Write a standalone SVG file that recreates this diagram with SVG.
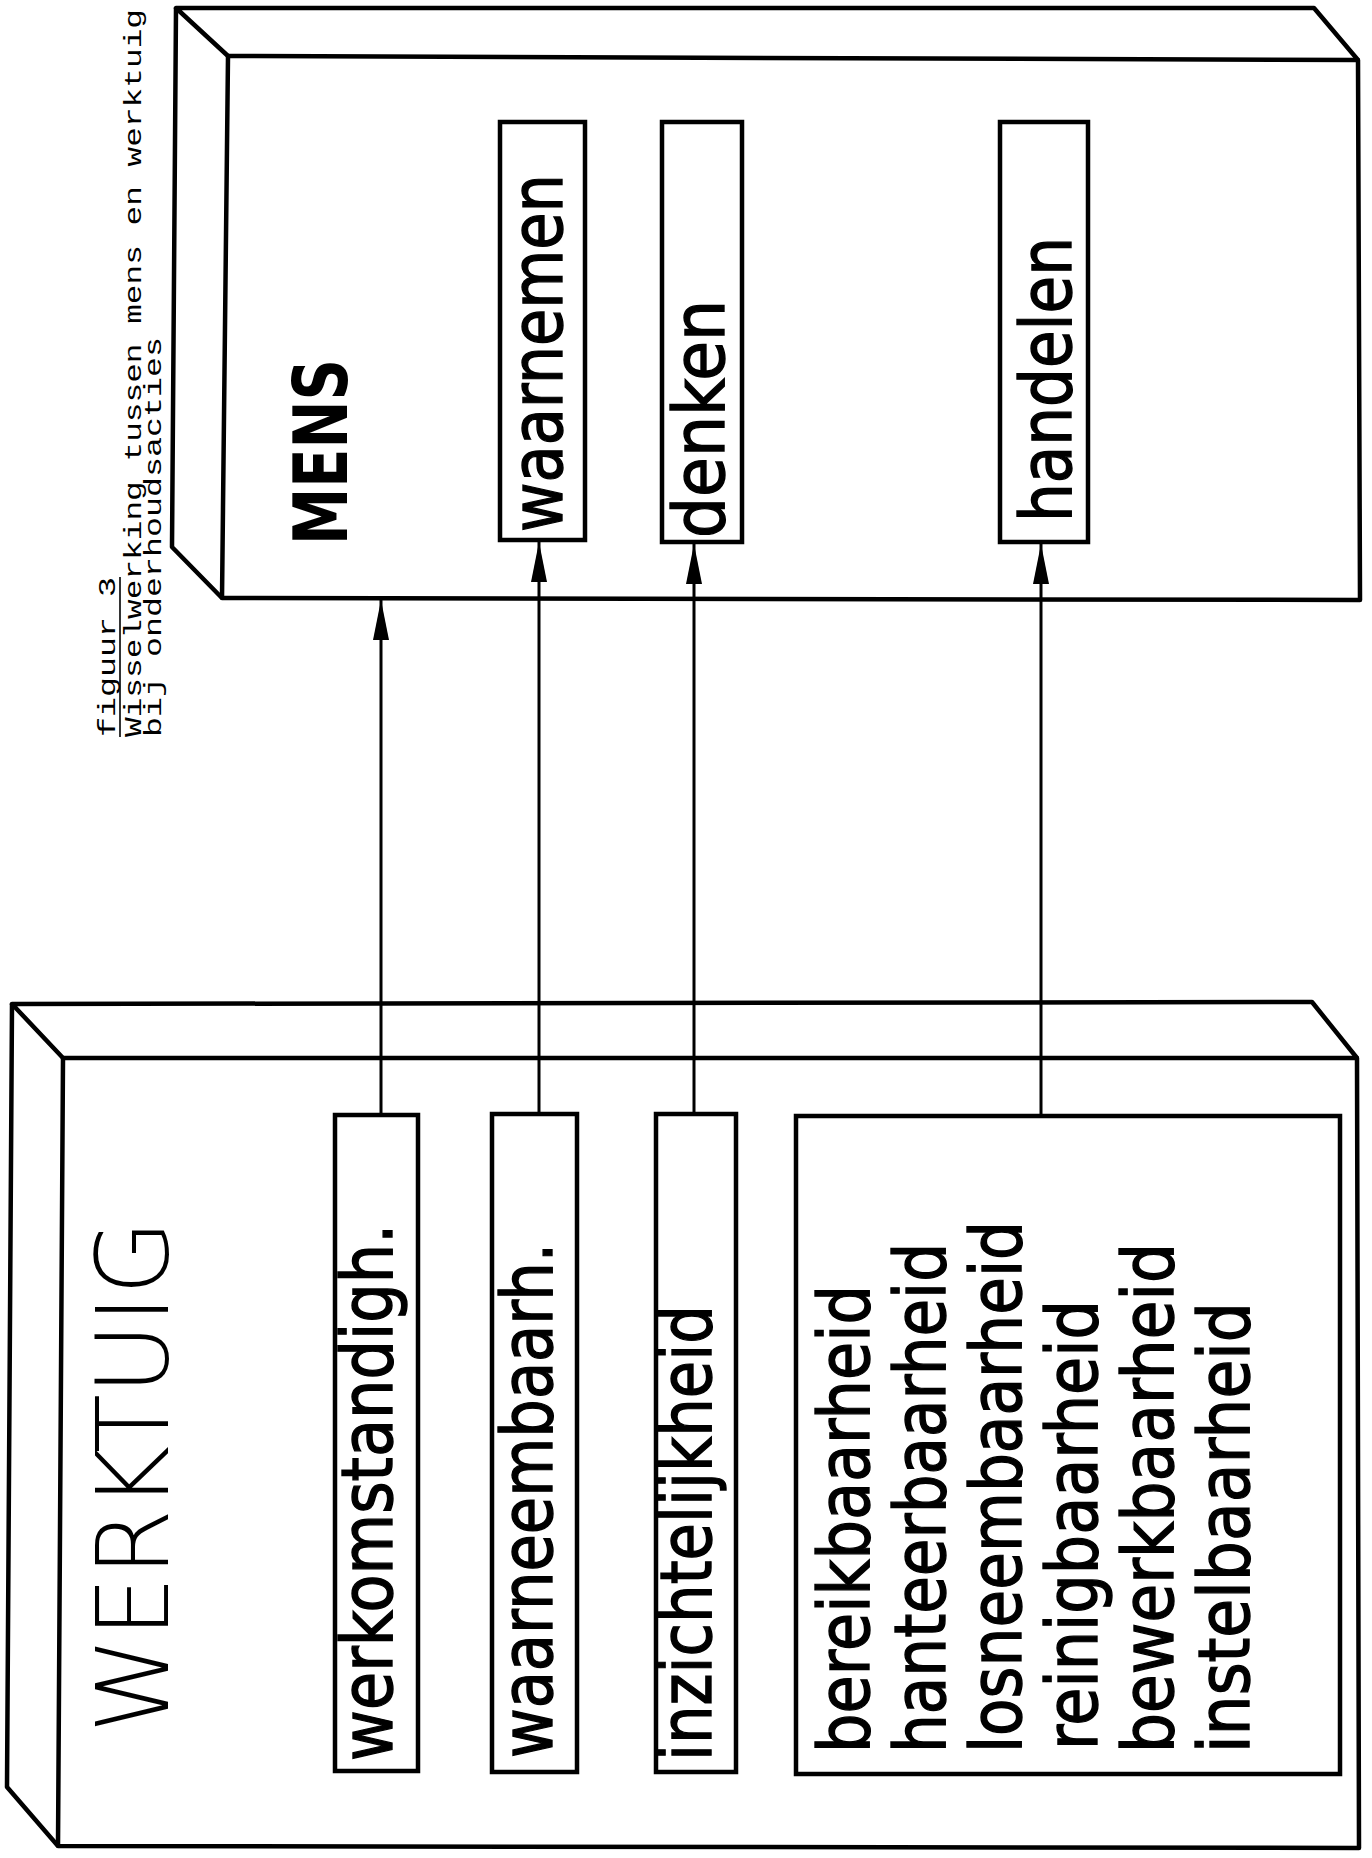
<svg xmlns="http://www.w3.org/2000/svg" width="1372" height="1858" viewBox="0 0 1372 1858">
<style>
.frame{fill:none;stroke:#000;stroke-width:4.5;stroke-linejoin:round}
.box{fill:none;stroke:#000;stroke-width:4.5}
.lbl{font-family:"DejaVu Sans",sans-serif;font-size:72px;fill:#000;stroke:#000;stroke-width:1.4}
.title{font-family:"DejaVu Sans",sans-serif;fill:#000}
.cap{font-family:"Liberation Mono",monospace;font-size:24px;fill:#000}
.conn{stroke:#000;stroke-width:3;fill:none}
</style>
<defs>
<marker id="ah" markerUnits="userSpaceOnUse" viewBox="0 0 40 18" markerWidth="40" markerHeight="18" refX="40" refY="9" orient="auto">
<path d="M0,1 L40,9 L0,17 Z" fill="#000"/>
</marker>
</defs>
<rect width="1372" height="1858" fill="#fff"/>

<g id="caption">
<text class="cap" transform="translate(115,737) rotate(-90)" textLength="160" lengthAdjust="spacingAndGlyphs">figuur 3</text>
<line x1="120" y1="737" x2="120" y2="577" stroke="#000" stroke-width="1.6"/>
<text class="cap" transform="translate(141,737) rotate(-90)" textLength="728" lengthAdjust="spacingAndGlyphs">Wisselwerking tussen mens en werktuig</text>
<text class="cap" transform="translate(161,737) rotate(-90)" textLength="400" lengthAdjust="spacingAndGlyphs">bij onderhoudsacties</text>
</g>

<g id="mens">
<path class="frame" d="M228,56 L1358,60 L1360,600 L222,598 Z"/>
<path class="frame" d="M228,56 L176,8 L1314,8 L1358,60"/>
<path class="frame" d="M176,8 L172,547 L222,598"/>
<text class="title" font-size="75" font-weight="bold" transform="translate(347,545) rotate(-90)" textLength="186" lengthAdjust="spacingAndGlyphs">MENS</text>
</g>
<g id="waarnemen">
<rect class="box" x="500" y="122" width="85" height="418"/>
<text class="lbl" transform="translate(562,532) rotate(-90)" textLength="358" lengthAdjust="spacingAndGlyphs">waarnemen</text>
</g>
<g id="denken">
<rect class="box" x="662" y="122" width="80" height="420"/>
<text class="lbl" transform="translate(724,538) rotate(-90)" textLength="238" lengthAdjust="spacingAndGlyphs">denken</text>
</g>
<g id="handelen">
<rect class="box" x="1000" y="122" width="88" height="420"/>
<text class="lbl" transform="translate(1071,522) rotate(-90)" textLength="285" lengthAdjust="spacingAndGlyphs">handelen</text>
</g>

<g id="werktuig">
<path class="frame" d="M63,1058 L1357,1058 L1359,1848 L58,1846 Z"/>
<path class="frame" d="M63,1058 L12,1004 L1312,1002 L1357,1058"/>
<path class="frame" d="M12,1004 L7,1787 L58,1846"/>
<text class="title" font-size="100" font-weight="300" transform="translate(168,1733) rotate(-90)" textLength="513" lengthAdjust="spacingAndGlyphs">WERKTUIG</text>
</g>
<g id="werkomstandigh">
<rect class="box" x="335" y="1115" width="83" height="656"/>
<text class="lbl" transform="translate(392,1761) rotate(-90)" textLength="537" lengthAdjust="spacingAndGlyphs">werkomstandigh.</text>
</g>
<g id="waarneembaarh">
<rect class="box" x="492" y="1114" width="85" height="658"/>
<text class="lbl" transform="translate(552,1758) rotate(-90)" textLength="515" lengthAdjust="spacingAndGlyphs">waarneembaarh.</text>
</g>
<g id="inzichtelijkheid">
<rect class="box" x="656" y="1114" width="80" height="658"/>
<text class="lbl" transform="translate(711,1761) rotate(-90)" textLength="456" lengthAdjust="spacingAndGlyphs">inzichtelijkheid</text>
</g>
<g id="eigenschappen">
<rect class="box" x="796" y="1116" width="544" height="658"/>
<text class="lbl" transform="translate(869,1753) rotate(-90)" textLength="468" lengthAdjust="spacingAndGlyphs">bereikbaarheid</text>
<text class="lbl" transform="translate(945,1753) rotate(-90)" textLength="510" lengthAdjust="spacingAndGlyphs">hanteerbaarheid</text>
<text class="lbl" transform="translate(1021,1753) rotate(-90)" textLength="532" lengthAdjust="spacingAndGlyphs">losneembaarheid</text>
<text class="lbl" transform="translate(1097,1750) rotate(-90)" textLength="450" lengthAdjust="spacingAndGlyphs">reinigbaarheid</text>
<text class="lbl" transform="translate(1173,1753) rotate(-90)" textLength="510" lengthAdjust="spacingAndGlyphs">bewerkbaarheid</text>
<text class="lbl" transform="translate(1249,1753) rotate(-90)" textLength="451" lengthAdjust="spacingAndGlyphs">instelbaarheid</text>
</g>

<g id="connectors">
<line class="conn" x1="381" y1="1115" x2="381" y2="600" marker-end="url(#ah)"/>
<line class="conn" x1="539" y1="1114" x2="539" y2="542" marker-end="url(#ah)"/>
<line class="conn" x1="694" y1="1114" x2="694" y2="544" marker-end="url(#ah)"/>
<line class="conn" x1="1041" y1="1116" x2="1041" y2="544" marker-end="url(#ah)"/>
</g>
</svg>
